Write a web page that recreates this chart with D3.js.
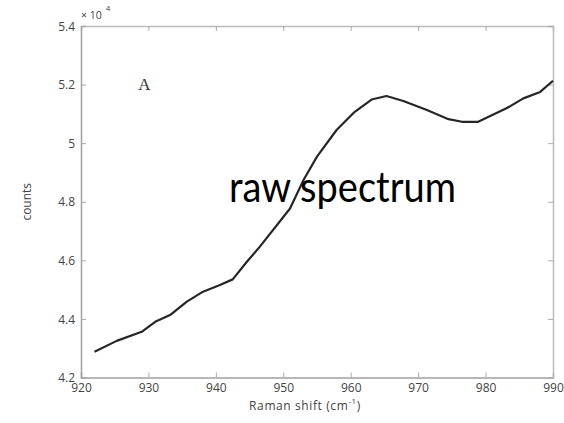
<!DOCTYPE html>
<html>
<head>
<meta charset="utf-8">
<script src="https://cdn.jsdelivr.net/npm/d3@7"></script>
<style>
  body { margin: 0; background: #fff; }
  svg { display: block; }
  .tick text { font-family: "Open Sans", sans-serif; font-size: 12px; fill: #444; }
</style>
</head>
<body>
<div id="chart"></div>
<script>
// Raman shift (cm^-1) and raw counts
const shift  = [922.0, 925.3, 929.0, 931.0, 933.2, 935.7, 938.1, 940.6, 942.5, 944.6, 946.5,
                951.0, 953.0, 955.0, 957.9, 960.6, 963.1, 965.3, 967.8, 971.3, 974.5,
                976.5, 978.9, 983.1, 985.6, 988.1, 990.0];
const counts = [42880, 43250, 43560, 43900, 44130, 44590, 44930, 45160, 45350, 45950, 46460,
                47770, 48740, 49540, 50450, 51070, 51490, 51610, 51440, 51130, 50820,
                50730, 50730, 51190, 51530, 51750, 52130];
const xTicks = [920, 930, 940, 950, 960, 970, 980, 990];
const yTicks = [42000, 44000, 46000, 48000, 50000, 52000, 54000];

const W = 564, H = 423;
const margin = { top: 26, right: 11, bottom: 45.5, left: 81 };
const width = W - margin.left - margin.right,
      height = H - margin.top - margin.bottom;

const svg = d3.select("#chart").append("svg")
    .attr("width", W)
    .attr("height", H);

const g = svg.append("g")
    .attr("transform", "translate(" + margin.left + "," + margin.top + ")");

const x = d3.scaleLinear().domain([920, 990]).range([0, width]);
const y = d3.scaleLinear().domain([42000, 54000]).range([height, 0]);

const fmt = d => String(+(d / 1e4).toFixed(1));

// axes, ticks pointing inward
const axB = g.append("g").attr("transform", "translate(0," + height + ")")
    .call(d3.axisBottom(x).tickValues(xTicks).tickSize(-5).tickPadding(6).tickFormat(d3.format("d")));
const axT = g.append("g")
    .call(d3.axisTop(x).tickValues(xTicks).tickSize(-5).tickFormat(""));
const axL = g.append("g")
    .call(d3.axisLeft(y).tickValues(yTicks).tickSize(-5).tickPadding(6).tickFormat(fmt));
const axR = g.append("g").attr("transform", "translate(" + width + ",0)")
    .call(d3.axisRight(y).tickValues(yTicks).tickSize(-5).tickFormat(""));

[axB, axT, axL, axR].forEach(a => {
  a.select(".domain").attr("stroke", "#a0a0a0").attr("stroke-width", 1.5);
  a.selectAll(".tick line").attr("stroke", "#aaa").attr("stroke-width", 1);
});
axT.select(".domain").attr("stroke", "#bbb");
axR.select(".domain").attr("stroke", "#bbb");
axL.selectAll(".tick text").attr("dy", "0.35em");

// spectrum line
const line = d3.line()
    .x((d, i) => x(shift[i]))
    .y(d => y(d));

g.append("path")
    .datum(counts)
    .attr("fill", "none")
    .attr("stroke", "#262626")
    .attr("stroke-width", 2.2)
    .attr("stroke-linejoin", "round")
    .attr("d", line);

// exponent label
const ex = svg.append("text")
    .attr("x", 81).attr("y", 19)
    .style("font-family", "'Open Sans', sans-serif")
    .style("font-size", "10.5px")
    .style("fill", "#444");
ex.append("tspan").text("\u00d7 10");
ex.append("tspan").attr("dy", -8).attr("dx", 4).style("font-size", "8px").text("4");

// panel letter
g.append("text")
    .attr("x", x(929.4)).attr("y", y(51815))
    .style("font-family", "'Liberation Serif', serif")
    .style("font-size", "17px")
    .style("fill", "#333")
    .style("text-anchor", "middle")
    .text("A");

// annotation
svg.append("text")
    .attr("transform", "translate(229,202) scale(1,1.1)")
    .style("font-family", "Lato, sans-serif")
    .style("font-size", "38px")
    .style("fill", "#000")
    .text("raw spectrum");

// axis titles
svg.append("text")
    .attr("transform", "translate(31," + (margin.top + height / 2) + ") rotate(-90)")
    .style("font-family", "'Open Sans', sans-serif")
    .style("font-size", "12px")
    .style("fill", "#444")
    .style("text-anchor", "middle")
    .text("counts");

const xl = svg.append("text")
    .attr("x", 305).attr("y", 410)
    .style("font-family", "'Open Sans', sans-serif")
    .style("font-size", "12px")
    .style("letter-spacing", "0.6px")
    .style("fill", "#444")
    .style("text-anchor", "middle");
xl.append("tspan").text("Raman shift (cm");
xl.append("tspan").attr("dy", -6).style("font-size", "8px").text("-1");
xl.append("tspan").attr("dy", 6).text(")");
</script>
</body>
</html>
